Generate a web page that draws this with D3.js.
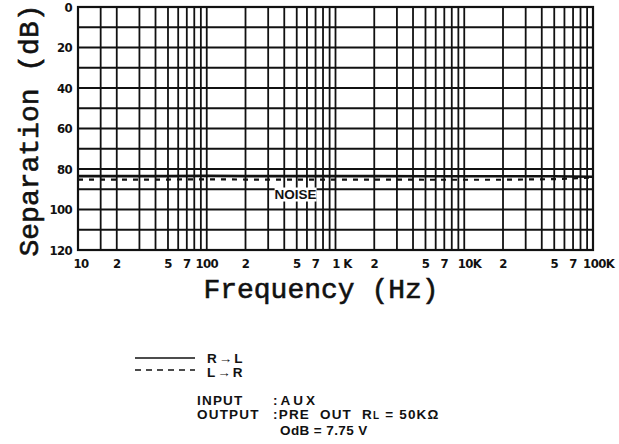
<!DOCTYPE html>
<html>
<head>
<meta charset="utf-8">
<script src="https://cdn.jsdelivr.net/npm/d3@7"></script>
<style>
  body { margin: 0; background: #fff; }
  svg { display: block; }
  .tick-label { font-family: "Liberation Sans Narrow", "DejaVu Sans Condensed", "Liberation Sans", sans-serif; font-weight: bold; font-size: 13px; fill: #111; }
  .axis-title { font-family: "Liberation Mono", "DejaVu Sans Mono", monospace; font-size: 28px; fill: #111; stroke: #111; stroke-width: 0.6px; }
  .note { font-family: "Liberation Sans", Arial, sans-serif; font-weight: bold; font-size: 13.5px; fill: #111; }
</style>
</head>
<body>
<div id="chart"></div>
<script>
// separation curves (dB below reference)
const freqs = [10, 20, 50, 100, 200, 500, 1000, 2000, 5000, 10000, 20000, 50000, 70000, 100000];
const rToL = [83.5, 83.5, 83.5, 83.4, 83.5, 83.5, 83.5, 83.5, 83.6, 83.6, 83.6, 83.6, 83.7, 83.8];
const lToR = [85.2, 85.2, 85.2, 85.1, 85.2, 85.2, 85.2, 85.2, 85.3, 85.3, 85.3, 85.0, 84.6, 84.2];

// grid
const yGrid = d3.range(0, 121, 10);
const yLabels = [0, 20, 40, 60, 80, 100, 120];
const decades = [10, 100, 1000, 10000];
const firstDecadeSteps = [1, 1.5, 2, 3, 4, 5, 6, 7, 8, 9];
const otherDecadeSteps = [1, 2, 3, 4, 5, 6, 7, 8, 9];
const xTickValues = [10, 20, 50, 70, 100, 200, 500, 700, 1000, 2000, 5000, 7000, 10000, 20000, 50000, 70000, 100000];
const xTickText = ["10", "2", "5", "7", "100", "2", "5", "7", "1 K", "2", "5", "7", "10K", "2", "5", "7", "100K"];

const width = 619, height = 444;
const margin = { top: 7, right: 26, bottom: 194, left: 78 };

const svg = d3.select("#chart").append("svg")
  .attr("width", width)
  .attr("height", height);

const x = d3.scaleLog()
  .domain([10, 100000])
  .range([margin.left, width - margin.right]);
const y = d3.scaleLinear()
  .domain([0, 120])
  .range([margin.top, height - margin.bottom]);

// vertical grid lines
const xGrid = [];
decades.forEach((d, i) => {
  const steps = i === 0 ? firstDecadeSteps : otherDecadeSteps;
  steps.forEach(s => xGrid.push(d * s));
});
xGrid.push(100000);

const grid = svg.append("g").attr("class", "grid")
  .attr("stroke", "#111").attr("stroke-width", 1.8);

grid.selectAll(".vline")
  .data(xGrid)
  .enter().append("line")
  .attr("class", "vline")
  .attr("x1", d => x(d)).attr("x2", d => x(d))
  .attr("y1", y(0)).attr("y2", y(120));

grid.selectAll(".hline")
  .data(yGrid)
  .enter().append("line")
  .attr("class", "hline")
  .attr("x1", x(10)).attr("x2", x(100000))
  .attr("y1", d => y(d)).attr("y2", d => y(d));

svg.append("rect")
  .attr("x", x(10)).attr("y", y(0))
  .attr("width", x(100000) - x(10)).attr("height", y(120) - y(0))
  .attr("fill", "none").attr("stroke", "#111").attr("stroke-width", 2.2);

// y labels
svg.append("g").selectAll("text")
  .data(yLabels)
  .enter().append("text")
  .attr("class", "tick-label")
  .attr("x", margin.left - 6)
  .attr("y", d => y(d))
  .attr("dy", "0.36em")
  .attr("text-anchor", "end")
  .attr("letter-spacing", -0.6)
  .text(d => d);

// x labels: number part is centred on the grid line
svg.append("g").selectAll("text")
  .data(xTickValues)
  .enter().append("text")
  .attr("class", "tick-label")
  .attr("y", y(120) + 18)
  .attr("letter-spacing", -0.6)
  .attr("x", (d, i) => {
    const t = xTickText[i];
    if (t.indexOf("K") < 0) return x(d) + (i === 0 ? 3 : 0);
    const num = t.replace(/[^0-9]/g, "");
    return x(d) - num.length * 3.3;
  })
  .attr("text-anchor", (d, i) => xTickText[i].indexOf("K") < 0 ? "middle" : "start")
  .attr("xml:space", "preserve")
  .text((d, i) => xTickText[i]);

// curves
const line = d3.line()
  .x(d => x(d[0]))
  .y(d => y(d[1]));

svg.append("path")
  .datum(freqs.map((f, i) => [f, rToL[i]]))
  .attr("d", line)
  .attr("fill", "none").attr("stroke", "#111").attr("stroke-width", 2.6);

svg.append("path")
  .datum(freqs.map((f, i) => [f, lToR[i]]))
  .attr("d", line)
  .attr("fill", "none").attr("stroke", "#111").attr("stroke-width", 2.2)
  .attr("stroke-dasharray", "5,6");

// NOISE label
const noiseX = x(490), noiseY = y(92.6);
svg.append("rect")
  .attr("x", noiseX - 21).attr("y", noiseY - 7)
  .attr("width", 42).attr("height", 14)
  .attr("fill", "#fff");
svg.append("text")
  .attr("class", "note")
  .attr("x", noiseX).attr("y", noiseY)
  .attr("dy", "0.36em")
  .attr("text-anchor", "middle")
  .attr("font-size", 11)
  .text("NOISE");

// axis titles
svg.append("text")
  .attr("class", "axis-title")
  .attr("transform", `translate(38,${(margin.top + y(120)) / 2 + 2}) rotate(-90)`)
  .attr("text-anchor", "middle")
  .text("Separation (dB)");

svg.append("text")
  .attr("class", "axis-title")
  .attr("x", 321).attr("y", 298)
  .attr("text-anchor", "middle")
  .text("Frequency (Hz)");

// legend
const legend = svg.append("g").attr("transform", "translate(135,358)");
legend.append("line").attr("x1", 0).attr("x2", 60).attr("y1", 0).attr("y2", 0)
  .attr("stroke", "#111").attr("stroke-width", 1.5);
legend.append("line").attr("x1", 0).attr("x2", 60).attr("y1", 12).attr("y2", 12)
  .attr("stroke", "#111").attr("stroke-width", 1.5).attr("stroke-dasharray", "6,5");
legend.append("text").attr("class", "note").attr("x", 72).attr("y", 5).attr("letter-spacing", 2).text("R\u2192L");
legend.append("text").attr("class", "note").attr("x", 72).attr("y", 19).attr("letter-spacing", 2).text("L\u2192R");

// measurement conditions
const notes = svg.append("g").attr("class", "note").attr("letter-spacing", 1.2);
notes.append("text").attr("x", 197).attr("y", 405).text("INPUT");
notes.append("text").attr("x", 273).attr("y", 405).attr("letter-spacing", 3).text(":AUX");
notes.append("text").attr("x", 197).attr("y", 419).text("OUTPUT");
const out = notes.append("text").attr("x", 273).attr("y", 419).attr("xml:space", "preserve");
out.append("tspan").text(":PRE  OUT  R");
out.append("tspan").attr("font-size", 10).text("L");
out.append("tspan").text(" = 50K\u03A9");
notes.append("text").attr("x", 280).attr("y", 435).attr("letter-spacing", 0.4).text("OdB = 7.75 V");
</script>
</body>
</html>
